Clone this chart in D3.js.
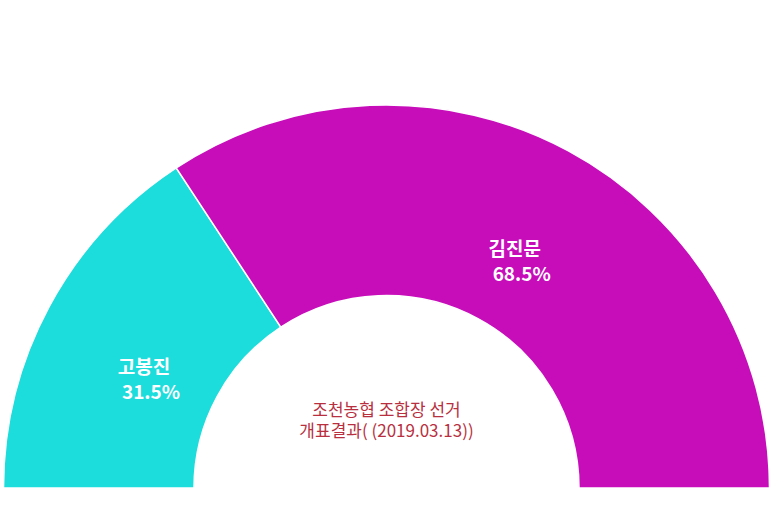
<!DOCTYPE html>
<html>
<head>
<meta charset="utf-8">
<script src="https://cdn.jsdelivr.net/npm/d3@7"></script>
<style>
  html, body { margin: 0; padding: 0; background: #fff; }
  svg { display: block; }
</style>
</head>
<body>
<svg id="chart" width="773" height="515"></svg>
<script>
// candidates and vote shares (%)
const names = ['고봉진', '김진문'];
const shares = [31.5, 68.5];
const colors = ['#1cdcdc', '#c70cba'];
const titleLines = ['조천농협 조합장 선거', '개표결과( (2019.03.13))'];

const width = 773, height = 515;
const cx = 386.5, cy = 488;
const outerR = 383, innerR = 192.5;
const labelR = 263;

const svg = d3.select('#chart');
const g = svg.append('g').attr('transform', `translate(${cx},${cy})`);

const data = names.map((n, i) => ({name: n, value: shares[i], color: colors[i]}));

const pie = d3.pie()
  .sort(null)
  .value(d => d.value)
  .startAngle(-Math.PI / 2)
  .endAngle(Math.PI / 2);

const arc = d3.arc().innerRadius(innerR).outerRadius(outerR);

const arcs = pie(data);

g.selectAll('path.slice')
  .data(arcs)
  .enter().append('path')
  .attr('class', 'slice')
  .attr('d', arc)
  .attr('fill', d => d.data.color)
  .attr('stroke', '#fff')
  .attr('stroke-width', 1.5);

// labels sit a bit further out toward the ends than the slice middle
function labelPos(d) {
  const a = (d.startAngle + d.endAngle) / 2 * 1.06;
  return [labelR * Math.sin(a), -labelR * Math.cos(a)];
}

const labels = g.selectAll('text.label')
  .data(arcs)
  .enter().append('text')
  .attr('class', 'label')
  .attr('transform', d => {
    const [x, y] = labelPos(d);
    return `translate(${x},${y - 4})`;
  })
  .attr('text-anchor', 'middle')
  .style('font-family', '"Noto Sans CJK KR", "Open Sans", sans-serif')
  .style('font-size', '19px')
  .style('font-weight', 'bold')
  .style('fill', '#fff');

labels.append('tspan')
  .attr('x', -3.5)
  .attr('dy', 0)
  .text(d => d.data.name);

labels.append('tspan')
  .attr('x', 3.5)
  .attr('dy', 25)
  .text(d => d3.format('.1f')(d.data.value) + '%');

// centre caption
const title = g.append('text')
  .attr('text-anchor', 'middle')
  .attr('y', -72)
  .style('font-family', '"Noto Sans CJK KR", "Open Sans", sans-serif')
  .style('font-size', '17px')
  .style('fill', '#b83040');

title.selectAll('tspan')
  .data(titleLines)
  .enter().append('tspan')
  .attr('x', 0)
  .attr('dy', (d, i) => i === 0 ? 0 : 21)
  .text(d => d);
</script>
</body>
</html>
